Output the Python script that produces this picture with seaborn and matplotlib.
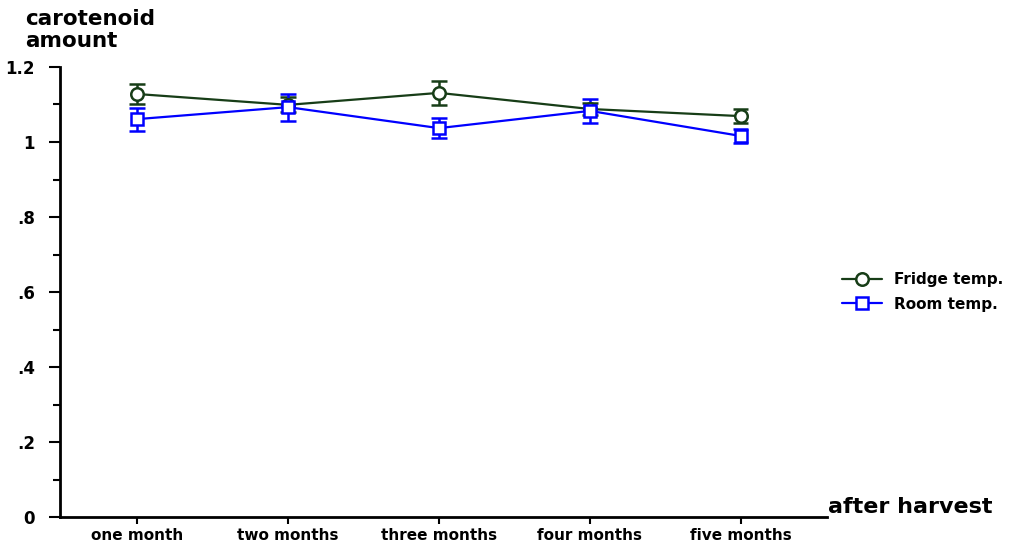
import pandas as pd
import seaborn as sns
import matplotlib.pyplot as plt
from matplotlib.ticker import MultipleLocator, FixedLocator

months = ["one month", "two months", "three months", "four months", "five months"]
fridge = [1.128, 1.099, 1.131, 1.088, 1.069]
fridge_err = [0.027, 0.020, 0.032, 0.015, 0.019]
room = [1.061, 1.093, 1.037, 1.083, 1.016]
room_err = [0.031, 0.036, 0.027, 0.031, 0.019]

sns.set_theme(style="white")
plt.rcParams['font.family'] = ['DejaVu Sans']
plt.rcParams['text.color'] = 'black'
plt.rcParams['xtick.color'] = 'black'
plt.rcParams['ytick.color'] = 'black'

pos = list(range(len(months)))
df = pd.DataFrame({
    "pos": pos * 2,
    "amount": fridge + room,
    "group": ["Fridge temp."] * len(months) + ["Room temp."] * len(months),
})

fridge_col = "#173d17"
room_col = "#0000ff"
colors = {"Fridge temp.": fridge_col, "Room temp.": room_col}
markers = {"Fridge temp.": "o", "Room temp.": "s"}

fig = plt.figure(figsize=(10.16, 5.48), dpi=100)
ax = fig.add_axes([60 / 1016, 31 / 548, (827 - 60) / 1016, 450 / 548])

sns.lineplot(data=df, x="pos", y="amount", hue="group", style="group",
             palette=colors, markers=markers, dashes=False, lw=1.6,
             markersize=9, markerfacecolor="white", markeredgewidth=1.8,
             ax=ax, zorder=3)

for line in ax.lines:
    line.set_markeredgecolor(line.get_color())

# error bars drawn after the lines so their colours are not touched
for vals, errs, col in [(fridge, fridge_err, fridge_col), (room, room_err, room_col)]:
    lo = [v - e for v, e in zip(vals, errs)]
    hi = [v + e for v, e in zip(vals, errs)]
    ax.vlines(pos, lo, hi, colors=col, linewidth=1.8, zorder=2)
    ax.hlines(lo, [p - 0.05 for p in pos], [p + 0.05 for p in pos], colors=col, linewidth=1.8, zorder=2)
    ax.hlines(hi, [p - 0.05 for p in pos], [p + 0.05 for p in pos], colors=col, linewidth=1.8, zorder=2)

ax.set_xlim(-0.51, 4.57)
ax.set_ylim(0, 1.2)
ax.xaxis.set_major_locator(FixedLocator(pos))
ax.set_xticklabels(months, fontsize=11, fontweight="bold")
ax.yaxis.set_minor_locator(MultipleLocator(0.1))
ax.set_yticks([0, 0.2, 0.4, 0.6, 0.8, 1.0, 1.2])
ax.set_yticklabels(["0", ".2", ".4", ".6", ".8", "1", "1.2"], fontsize=12, fontweight="bold")
ax.tick_params(axis="y", which="major", direction="out", length=8, width=1.5, left=True, pad=10)
ax.tick_params(axis="y", which="minor", direction="out", length=5, width=1.5, left=True)
ax.tick_params(axis="x", which="major", direction="out", length=5, width=1.5, bottom=True, pad=3)
ax.set_xlabel("")
ax.set_ylabel("")
for s in ["top", "right"]:
    ax.spines[s].set_visible(False)
for s in ["left", "bottom"]:
    ax.spines[s].set_color("black")
    ax.spines[s].set_linewidth(2)

fig.text(25 / 1016, 1 - 30 / 548, "carotenoid\namount", fontsize=15.5, fontweight="bold",
         va="center", ha="left", linespacing=1.1)
fig.text(828 / 1016, 1 - 507 / 548, "after harvest", fontsize=16, fontweight="bold",
         va="center", ha="left")

ax.legend(title=None, frameon=False, loc="center left", bbox_to_anchor=(1.0, 0.50),
          handlelength=2.6, labelspacing=0.6, borderaxespad=0.6,
          prop={"weight": "bold", "size": 11})

fig.savefig("out.png", dpi=100)
